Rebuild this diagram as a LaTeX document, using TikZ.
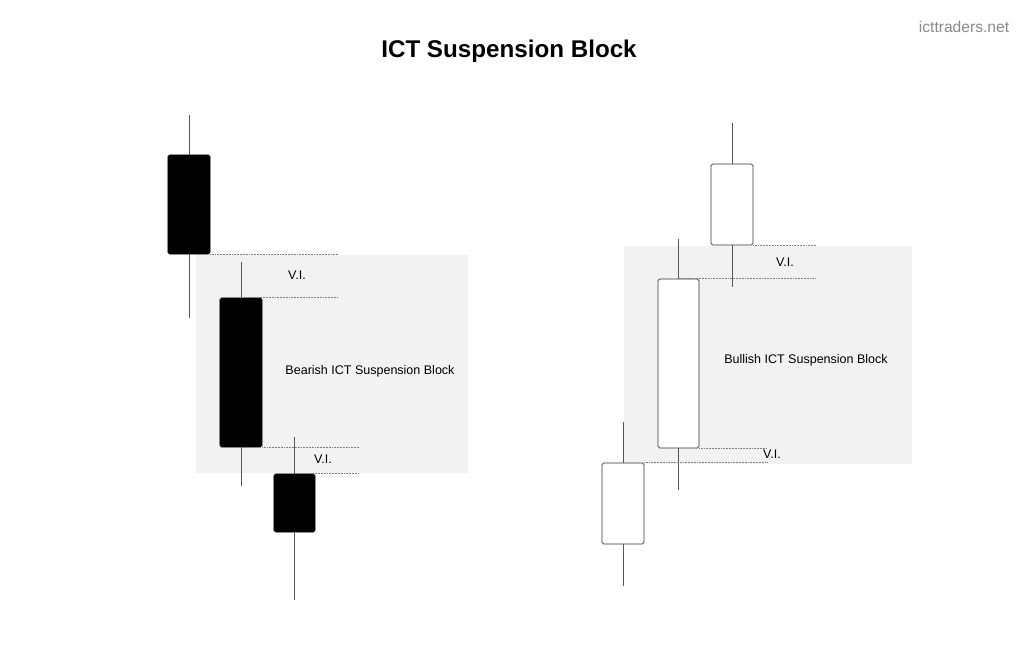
\documentclass[tikz,border=0pt]{standalone}
\usepackage{fontspec}
\setmainfont{Liberation Sans}
\usetikzlibrary{positioning,calc}
\definecolor{zone}{HTML}{F2F2F2}
\definecolor{meche}{HTML}{555555}
\definecolor{marque}{HTML}{8A8A8A}
\tikzset{
  bear/.style={rectangle, rounded corners=1.2pt, draw=black, fill=black, line width=0.5pt,
               minimum width=1.05cm, minimum height=#1, inner sep=0pt},
  bull/.style={rectangle, rounded corners=1.2pt, draw=black!80, fill=white, line width=0.5pt,
               minimum width=1.05cm, minimum height=#1, inner sep=0pt},
  wick/.style={draw=meche, line width=0.6pt},
  vi/.style={draw=gray, line width=0.5pt, dash pattern=on 0.6pt off 0.5pt},
  lbl/.style={font=\fontsize{8.9}{10}\selectfont, inner sep=0pt},
}

\begin{document}
\begin{tikzpicture}[x=0.025cm, y=-0.025cm]
    \useasboundingbox (0,0) rectangle (1024,662);
    \node[font=\bfseries\fontsize{17.2}{20}\selectfont] (title) at (509,51) {ICT Suspension Block};
    \node[font=\fontsize{11.1}{13}\selectfont, text=marque] (site) at (964,27) {icttraders.net};
    % bearish
    \fill[zone] (196,255) rectangle (468,473);
    \node[bear=2.475cm] (c1) at (189,204.5) {};
    \node[bear=3.725cm] (c2) at (241,372.5) {};
    \node[bear=1.45cm, minimum width=1.025cm] (c3) at (294.5,503) {};
    \draw[wick](c1.north)--++(0,-40); \draw[wick](c1.south)--++(0,64);
    \draw[wick](c2.north)--++(0,-36); \draw[wick](c2.south)--++(0,39);
    \draw[wick](c3.north)--++(0,-37); \draw[wick](c3.south)--++(0,68);
    \draw[vi](c1.south east)--++(128,0); \draw[vi](c2.north)--++(97,0);
    \draw[vi](c2.south east)--++(96,0); \draw[vi](c3.north)--++(64,0);
    \node[lbl] (v1) at (297,275) {V.I.};
    \node[lbl] (v2) at (323,459) {V.I.};
    \node[lbl] (bear) at (370,371) {Bearish ICT Suspension Block};
    % bullish
    \fill[zone] (624,246) rectangle (912,464);
    \node[bull=2.025cm] (ca) at (732,204.5) {};
    \node[bull=4.225cm, minimum width=1.025cm] (cb) at (678.5,363.5) {};
    \node[bull=2.025cm] (cc) at (623,503.5) {};
    \draw[wick](ca.north)--++(0,-41); \draw[wick](ca.south)--++(0,42);
    \draw[wick](cb.north)--++(0,-40); \draw[wick](cb.south)--++(0,42);
    \draw[wick](cc.north)--++(0,-41); \draw[wick](cc.south)--++(0,42);
    \draw[vi](ca.south east)--++(63,0); \draw[vi](cb.north)--++(137,0);
    \draw[vi](cb.south east)--++(68,0); \draw[vi](cc.north east)--++(123,0);
    \node[lbl] (v3) at (785,262) {V.I.};
    \node[lbl] (v4) at (772,454) {V.I.};
    \node[lbl] (bull) at (806,360) {Bullish ICT Suspension Block};
  \end{tikzpicture}
\end{document}
